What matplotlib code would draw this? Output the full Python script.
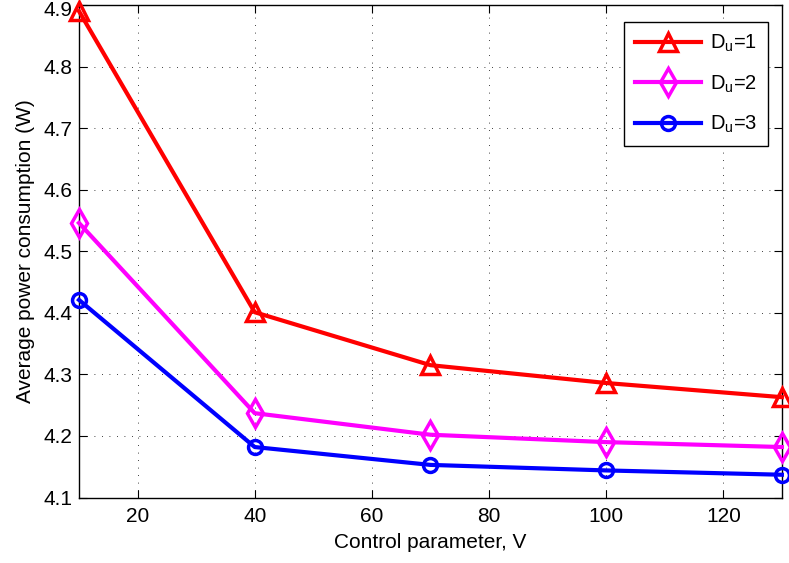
import numpy as np
import matplotlib
matplotlib.use('Agg')
import matplotlib.pyplot as plt
import matplotlib.transforms as mtransforms

# control parameter V
v_values = [10, 40, 70, 100, 130]

# average power consumption (W) for each D_u
power_du1 = [4.890, 4.401, 4.315, 4.286, 4.263]
power_du2 = [4.546, 4.237, 4.202, 4.190, 4.182]
power_du3 = [4.421, 4.182, 4.153, 4.144, 4.137]

labels = ['D$_\\mathregular{u}$=1', 'D$_\\mathregular{u}$=2', 'D$_\\mathregular{u}$=3']

plt.rcParams['font.family'] = ['Liberation Sans', 'DejaVu Sans']
plt.rcParams['mathtext.fontset'] = 'custom'
plt.rcParams['mathtext.rm'] = 'Liberation Sans'

fig = plt.figure(figsize=(7.89, 5.63), dpi=100)
ax = fig.add_axes([0.1001, 0.1163, 0.8909, 0.8748])

ax.plot(v_values, power_du1, color='red', lw=3, marker='^', ms=13,
        mfc='none', mec='red', mew=2.5, label=labels[0], clip_on=False, zorder=3)
ax.plot(v_values, power_du2, color='magenta', lw=3, marker='d', ms=14,
        mfc='none', mec='magenta', mew=2.5, label=labels[1], clip_on=False, zorder=3)
ax.plot(v_values, power_du3, color='blue', lw=3, marker='o', ms=10,
        mfc='none', mec='blue', mew=2.5, label=labels[2], clip_on=False, zorder=3)

ax.set_xlim(10, 130)
ax.set_ylim(4.1, 4.9)
ax.set_xticks([20, 40, 60, 80, 100, 120])
ax.set_yticks(np.arange(4.1, 4.95, 0.1))
ax.set_yticklabels(['4.1', '4.2', '4.3', '4.4', '4.5', '4.6', '4.7', '4.8', '4.9'])

ax.grid(True, linestyle=(0, (1, 8)), color='black', lw=0.6)
ax.tick_params(direction='in', top=True, right=True, labelsize=15, length=5.5)
ax.tick_params(axis='x', pad=7)
ax.tick_params(axis='y', pad=5)
for sp in ax.spines.values():
    sp.set_linewidth(1.0)

# keep the top tick label inside the figure
top_lbl = ax.get_yticklabels()[-1]
top_lbl.set_verticalalignment('top')
top_lbl.set_transform(top_lbl.get_transform() +
                      mtransforms.ScaledTranslation(0, 3 / 72, fig.dpi_scale_trans))

ax.set_xlabel('Control parameter, V', fontsize=15, labelpad=5)
ax.set_ylabel('Average power consumption (W)', fontsize=15, labelpad=6)

leg = ax.legend(loc='upper right', fontsize=14.5, fancybox=False, framealpha=1,
                edgecolor='black', handlelength=3.3, handletextpad=0.4,
                borderpad=0.55, labelspacing=0.95, borderaxespad=0,
                bbox_to_anchor=(0.980, 0.9655))
leg.get_frame().set_linewidth(1.0)

fig.savefig('out.png', dpi=100)
